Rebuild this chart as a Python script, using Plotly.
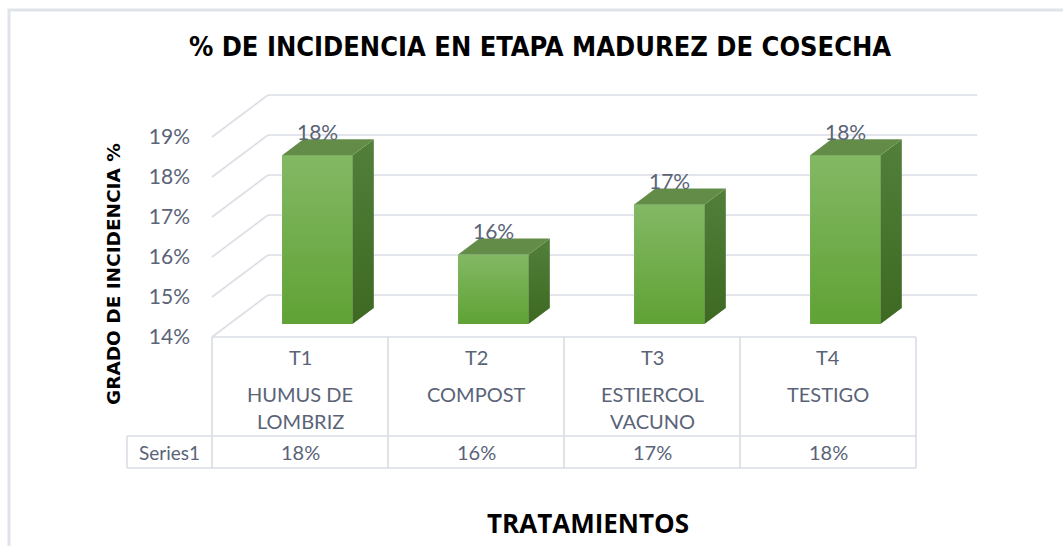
import plotly.graph_objects as go

# ---------------- data ----------------
codes = ["T1", "T2", "T3", "T4"]
name_lines = [["HUMUS DE", "LOMBRIZ"], ["COMPOST"], ["ESTIERCOL", "VACUNO"], ["TESTIGO"]]
values = [18.22, 15.74, 16.99, 18.22]          # % incidence (bar heights)
value_labels = ["18%", "16%", "17%", "18%"]
series_name = "Series1"
tick_vals = [14, 15, 16, 17, 18, 19]
tick_text = ["14%", "15%", "16%", "17%", "18%", "19%"]
title_text = "% DE INCIDENCIA EN ETAPA MADUREZ DE COSECHA"
ytitle_text = "GRADO DE INCIDENCIA %"
xtitle_text = "TRATAMIENTOS"

# ---------------- style / geometry ----------------
W, H = 1063, 546
ML, MR, MT, MB = 124, 83, 90, 70
XR = [-1.0, 3.8636]
YR = [10.525, 20.175]
BASE = 14
DX, DY = 0.318, 1.05          # oblique depth offset (x units, y units) of full floor depth
D0, D1 = 0.31, 0.69           # bar depth extent
BW = 0.40                     # bar width
ROW_MID, ROW_BOT = 11.525, 10.725
SER_LEFT = -0.983
GRID = "#d9dde4"
TXT = "#5a6377"
FONT = "Lato, 'Noto Sans', sans-serif"

fig = go.Figure()

def line_trace(xs, ys, color=GRID, width=1.6):
    fig.add_trace(go.Scatter(x=xs, y=ys, mode="lines", line=dict(color=color, width=width),
                             hoverinfo="skip", showlegend=False))

# back wall and side wall gridlines
n = len(codes)
for g in tick_vals:
    line_trace([-0.5 + DX, n - 0.5 + DX + 0.03], [g + DY, g + DY])
    line_trace([-0.5, -0.5 + DX], [g, g + DY])

# table grid (data table under the axis)
line_trace([-0.5, n - 0.5], [BASE, BASE])
line_trace([SER_LEFT, n - 0.5], [ROW_MID, ROW_MID])
line_trace([SER_LEFT, n - 0.5], [ROW_BOT, ROW_BOT])
for k in range(n + 1):
    line_trace([k - 0.5, k - 0.5], [BASE, ROW_BOT])
line_trace([SER_LEFT, SER_LEFT], [ROW_MID, ROW_BOT])

# bars (front face as a real bar trace, then 3D faces)
centers = [i + D0 * DX for i in range(n)]
fig.add_trace(go.Bar(x=centers, y=[v - BASE for v in values], base=BASE + D0 * DY,
                     width=BW, marker=dict(color="#6fab4a", line=dict(width=0)),
                     name=series_name, showlegend=False, hoverinfo="skip"))

ddx = (D1 - D0) * DX
for c, v in zip(centers, values):
    yb0, yt0 = BASE + D0 * DY, v + D0 * DY
    yb1, yt1 = BASE + D1 * DY, v + D1 * DY
    xl, xr = c - BW / 2, c + BW / 2
    fig.add_trace(go.Scatter(x=[xl, xr, xr, xl, xl], y=[yb0, yb0, yt0, yt0, yb0],
                             mode="lines", line=dict(width=0), fill="toself",
                             fillgradient=dict(type="vertical",
                                               colorscale=[[0, "#60a235"], [1, "#83b864"]]),
                             hoverinfo="skip", showlegend=False))
    fig.add_trace(go.Scatter(x=[xr, xr + ddx, xr + ddx, xr, xr], y=[yb0, yb1, yt1, yt0, yb0],
                             mode="lines", line=dict(width=0), fill="toself",
                             fillgradient=dict(type="vertical",
                                               colorscale=[[0, "#3d6922"], [1, "#52803a"]]),
                             hoverinfo="skip", showlegend=False))
    fig.add_trace(go.Scatter(x=[xl, xr, xr + ddx, xl + ddx, xl], y=[yt0, yt0, yt1, yt1, yt0],
                             mode="lines", line=dict(width=0), fill="toself",
                             fillcolor="#628c48", hoverinfo="skip", showlegend=False))

annotations = []
for c, v, lab in zip(centers, values, value_labels):
    annotations.append(dict(x=c, y=v + D1 * DY, text=lab, showarrow=False, yanchor="middle",
                            yshift=8, font=dict(family=FONT, size=21, color=TXT)))
for i in range(n):
    annotations.append(dict(x=i, y=13.5, text=codes[i], showarrow=False,
                            font=dict(family=FONT, size=20, color=TXT)))
    for j, ln in enumerate(name_lines[i]):
        annotations.append(dict(x=i, y=12.575 - j * 0.675, text=ln, showarrow=False,
                                font=dict(family=FONT, size=20, color=TXT)))
    annotations.append(dict(x=i, y=(ROW_MID + ROW_BOT) / 2, text=value_labels[i], showarrow=False,
                            font=dict(family=FONT, size=20, color=TXT)))
annotations.append(dict(x=(SER_LEFT - 0.5) / 2, y=(ROW_MID + ROW_BOT) / 2, text=series_name,
                        showarrow=False, font=dict(family=FONT, size=19, color=TXT)))
pw, ph = W - ML - MR, H - MT - MB
annotations.append(dict(xref="paper", yref="paper", x=(588 - ML) / pw, y=(H - MB - 523) / ph,
                        xanchor="center", yanchor="middle",
                        text="<b>%s</b>" % xtitle_text, showarrow=False,
                        font=dict(family="'Open Sans', sans-serif", size=26, color="#000000")))
annotations.append(dict(xref="paper", yref="paper", x=(113 - ML) / pw, y=(H - MB - 274) / ph,
                        xanchor="center", yanchor="middle",
                        text="<b>%s</b>" % ytitle_text, showarrow=False, textangle=-90,
                        font=dict(family="'DejaVu Sans', sans-serif", size=18.5, color="#000000")))

fig.update_layout(
    width=W, height=H, margin=dict(l=ML, r=MR, t=MT, b=MB),
    paper_bgcolor="white", plot_bgcolor="white", showlegend=False,
    title=dict(text="<b>%s</b>" % title_text, x=540 / W, xanchor="center", xref="container",
               y=1 - 47 / H, yanchor="middle",
               font=dict(family="'Liberation Sans Narrow', 'DejaVu Sans Condensed', sans-serif",
                         size=27, color="#000000")),
    xaxis=dict(range=XR, showgrid=False, zeroline=False, showticklabels=False, showline=False,
               fixedrange=True),
    yaxis=dict(range=YR, showgrid=False, zeroline=False, showline=False, tickvals=tick_vals,
               ticktext=tick_text, ticks="", anchor="free", position=(190 - ML) / pw,
               tickfont=dict(family=FONT, size=21, color=TXT), fixedrange=True),
    annotations=annotations,
    shapes=[dict(type="rect", xref="paper", yref="paper", x0=(9 - ML) / pw, x1=(1075 - ML) / pw,
                 y0=(H - MB - 560) / ph, y1=(H - MB - 10) / ph,
                 line=dict(color="#dfe3ea", width=3), layer="below")],
)

fig.write_html("out.html", config={"displayModeBar": False},
               post_script="document.body.style.margin='0';")
